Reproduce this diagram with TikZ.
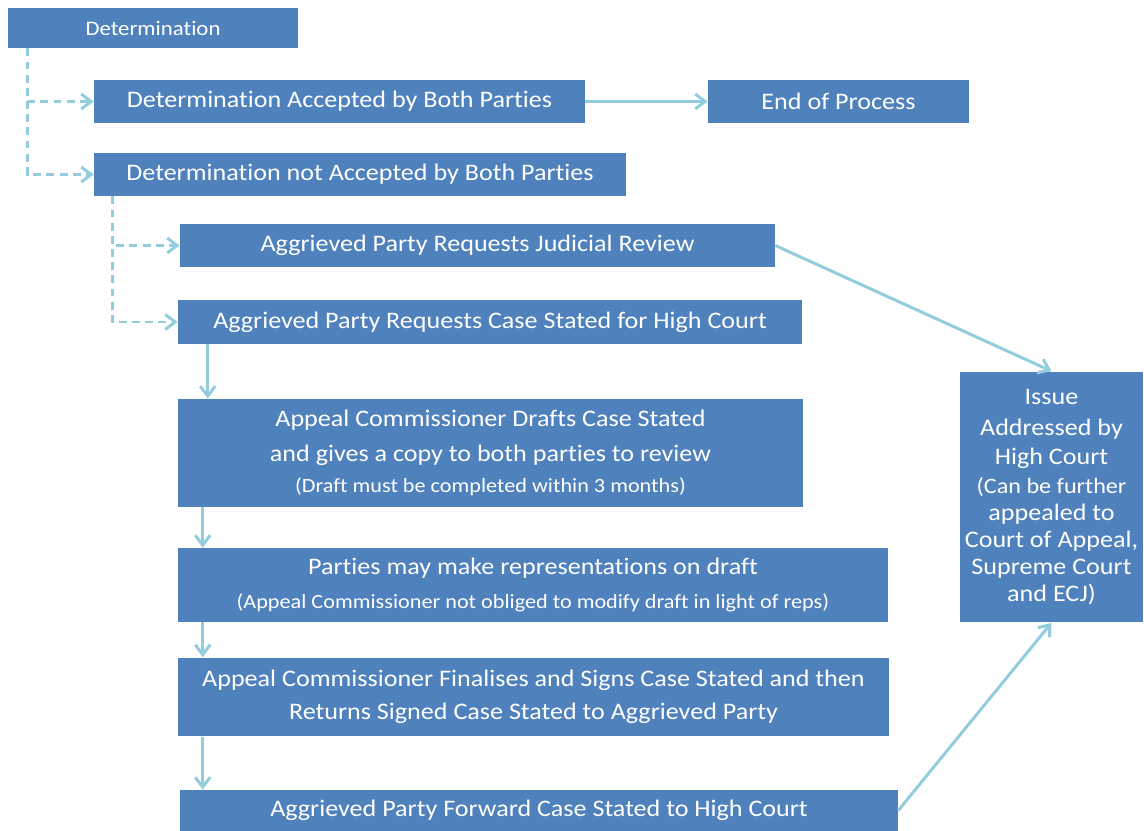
\documentclass[tikz,border=0pt]{standalone}
\usepackage{fontspec}
\setmainfont{Carlito}[FakeStretch=1.1,Ligatures=NoCommon]
\usetikzlibrary{arrows.meta,positioning}
\definecolor{boxblue}{HTML}{4F81BD}
\definecolor{linkblue}{HTML}{93CDDD}
\tikzset{
  box/.style={fill=boxblue, text=white, inner sep=2pt, align=center,
    font=\fontsize{13.5}{19}\selectfont},
  link/.style={draw=linkblue, line width=1.7pt,
    -{Straight Barb[length=2mm,width=3mm]}},
  dashlink/.style={link, dash pattern=on 4.5pt off 3pt},
}
\newcommand{\smallnote}{\fontsize{11.5}{17}\selectfont}
\begin{document}
\begin{tikzpicture}[x=0.02cm,y=-0.02cm]
  \useasboundingbox (0,0) rectangle (1144,831);
  \node (det) [box, minimum width=5.8cm, minimum height=0.8cm,
    font=\fontsize{11.8}{14}\selectfont] at (153,28) {Determination};
  \node (acc) [box, minimum width=9.82cm, minimum height=0.86cm] at (339.5,101.5)
    {Determination Accepted by Both Parties};
  \node (endp) [box, minimum width=5.22cm, minimum height=0.86cm] at (838.5,101.5)
    {End of Process};
  \node (notacc) [box, minimum width=10.64cm, minimum height=0.86cm] at (360,174.5)
    {Determination not Accepted by Both Parties};
  \node (jr) [box, minimum width=11.9cm, minimum height=0.86cm] at (477.5,245.5)
    {Aggrieved Party Requests Judicial Review};
  \node (cs) [box, minimum width=12.48cm, minimum height=0.88cm] at (490,322)
    {Aggrieved Party Requests Case Stated for High Court};
  \node (drafts) [box, minimum width=12.5cm, minimum height=2.16cm,
    font=\fontsize{13.5}{20}\selectfont] at (490.5,453)
    {Appeal Commissioner Drafts Case Stated\\
     and gives a copy to both parties to review\\[-2.5pt]
     \smallnote (Draft must be completed within 3 months)};
  \node (reps) [box, minimum width=14.2cm, minimum height=1.48cm] at (533,585)
    {Parties may make representations on draft\\
     \smallnote (Appeal Commissioner not obliged to modify draft in light of reps)};
  \node (final) [box, minimum width=14.22cm, minimum height=1.58cm] at (533.5,697)
    {Appeal Commissioner Finalises and Signs Case Stated and then\\
     Returns Signed Case Stated to Aggrieved Party};
  \node (fwd) [box, minimum width=14.36cm, minimum height=0.82cm] at (539,810.5)
    {Aggrieved Party Forward Case Stated to High Court};
  \node (issue) [box, minimum width=3.66cm, minimum height=5.02cm,
    font=\fontsize{13.5}{15.3}\selectfont] at (1051.5,497)
    {Issue\\[2pt]Addressed by\\[1.5pt]High Court\\[1pt]
     \fontsize{12.5}{15.3}\selectfont (Can be further\\appealed to\\
     Court of Appeal,\\Supreme Court\\and ECJ)};

  \draw[dashlink] ([xshift=0.4cm]det.south west) |- (acc.west);
  \draw[dashlink] ([xshift=0.4cm]det.south west) |- (notacc.west);
  \draw[dashlink] ([xshift=0.38cm]notacc.south west) |- (jr.west);
  \draw[dashlink] ([xshift=0.38cm]notacc.south west) |- (cs.west);
  \draw[link] (acc) -- (endp);
  \draw[link] ([xshift=0.6cm]cs.south west) -- ([xshift=0.6cm]cs.south west |- drafts.north);
  \draw[link] ([xshift=0.5cm]drafts.south west) -- ([xshift=0.5cm]drafts.south west |- reps.north);
  \draw[link] ([xshift=0.5cm]reps.south west) -- ([xshift=0.5cm]reps.south west |- final.north);
  \draw[link] ([xshift=0.5cm]final.south west) -- ([xshift=0.5cm]final.south west |- fwd.north);
  \draw[link] (jr.east) -- (issue.north);
  \draw[link] (fwd.east) -- (issue.south);
\end{tikzpicture}
\end{document}
